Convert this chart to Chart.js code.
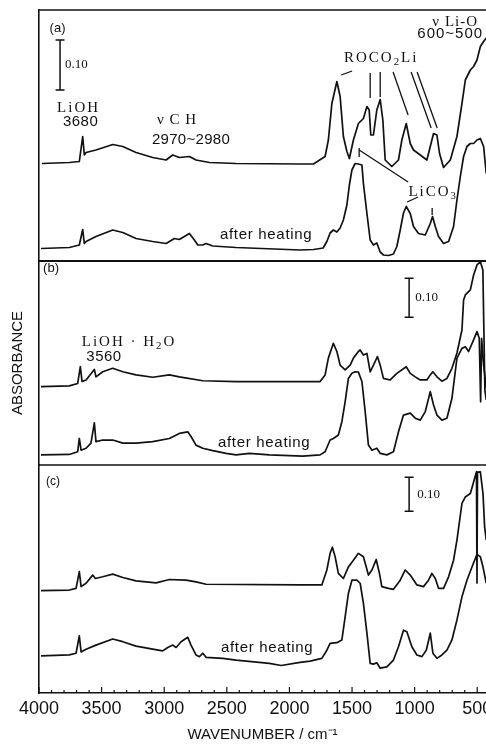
<!DOCTYPE html>
<html>
<head>
<meta charset="utf-8">
<script src="https://cdn.jsdelivr.net/npm/chart.js@4.4.1/dist/chart.umd.min.js"></script>
<style>
  html, body { margin: 0; padding: 0; background: #fff; overflow: hidden; }
  #wrap { width: 486px; height: 744px; position: relative; }
</style>
</head>
<body>
<div id="wrap"><canvas id="irChart"></canvas></div>
<script>
// x tick labels (cm-1)
const tickLabels = [4000, 3500, 3000, 2500, 2000, 1500, 1000, 500];

// spectra: [wavenumber cm-1, absorbance]
// panel (a)
const aFormed = [[3976,0.195],[3758,0.197],[3678,0.199],[3651,0.249],[3638,0.212],[3624,0.217],[3545,0.222],[3411,0.233],[3331,0.229],[3225,0.217],[3092,0.207],[2985,0.202],[2932,0.212],[2879,0.207],[2799,0.209],[2746,0.202],[2639,0.197],[2426,0.195],[1915,0.194],[1808,0.194],[1715,0.209],[1689,0.242],[1661,0.315],[1621,0.359],[1595,0.329],[1569,0.249],[1541,0.219],[1521,0.205],[1489,0.242],[1449,0.275],[1409,0.285],[1381,0.309],[1363,0.302],[1350,0.252],[1329,0.252],[1302,0.302],[1275,0.323],[1254,0.282],[1235,0.202],[1182,0.189],[1129,0.202],[1102,0.242],[1067,0.275],[1035,0.235],[1009,0.222],[955,0.212],[902,0.202],[875,0.229],[849,0.255],[822,0.252],[801,0.215],[769,0.187],[715,0.202],[662,0.249],[622,0.315],[595,0.362],[555,0.382],[529,0.389],[502,0.402],[475,0.429],[449,0.439],[428,0.446]];
const aHeated = [[3984,0.025],[3758,0.027],[3678,0.032],[3651,0.063],[3638,0.035],[3624,0.039],[3545,0.049],[3411,0.062],[3331,0.057],[3225,0.045],[3092,0.039],[2985,0.035],[2919,0.045],[2879,0.043],[2799,0.055],[2759,0.042],[2732,0.032],[2692,0.032],[2666,0.035],[2612,0.030],[2426,0.027],[1915,0.022],[1808,0.023],[1755,0.025],[1731,0.026],[1701,0.039],[1675,0.056],[1649,0.062],[1621,0.058],[1595,0.066],[1569,0.082],[1541,0.112],[1521,0.152],[1501,0.182],[1475,0.195],[1449,0.194],[1421,0.192],[1409,0.155],[1381,0.095],[1355,0.042],[1329,0.032],[1302,0.036],[1275,0.018],[1249,0.012],[1209,0.011],[1169,0.014],[1142,0.029],[1115,0.062],[1089,0.096],[1067,0.109],[1035,0.095],[1009,0.069],[969,0.055],[915,0.052],[875,0.075],[857,0.089],[835,0.069],[809,0.049],[769,0.035],[729,0.039],[689,0.069],[662,0.122],[635,0.169],[609,0.209],[582,0.229],[555,0.235],[529,0.235],[502,0.242],[475,0.245],[449,0.229],[428,0.175]];

// panel (b)
const bFormed = [[3984,0.201],[3758,0.203],[3691,0.209],[3670,0.252],[3656,0.214],[3624,0.218],[3558,0.245],[3545,0.226],[3491,0.239],[3411,0.248],[3331,0.239],[3225,0.231],[3092,0.225],[2959,0.231],[2879,0.226],[2692,0.216],[2426,0.214],[1915,0.214],[1755,0.214],[1715,0.231],[1689,0.274],[1649,0.312],[1621,0.291],[1595,0.256],[1555,0.244],[1515,0.256],[1489,0.274],[1449,0.291],[1435,0.295],[1409,0.282],[1381,0.286],[1355,0.239],[1329,0.256],[1297,0.278],[1275,0.256],[1249,0.222],[1195,0.218],[1142,0.235],[1067,0.252],[1035,0.235],[995,0.226],[955,0.218],[902,0.218],[875,0.231],[854,0.239],[822,0.226],[782,0.215],[742,0.222],[702,0.248],[662,0.287],[622,0.346],[609,0.423],[595,0.436],[555,0.449],[529,0.487],[502,0.513],[475,0.521],[455,0.500],[447,0.346],[439,0.192],[428,0.167]];
const bHeated = [[3984,0.026],[3758,0.027],[3691,0.034],[3678,0.068],[3664,0.038],[3624,0.043],[3585,0.056],[3558,0.108],[3545,0.060],[3491,0.064],[3411,0.064],[3331,0.056],[3225,0.056],[3092,0.060],[2959,0.068],[2879,0.081],[2812,0.085],[2786,0.073],[2746,0.051],[2692,0.043],[2612,0.037],[2506,0.030],[2426,0.026],[2320,0.030],[2160,0.026],[1893,0.023],[1755,0.026],[1715,0.034],[1675,0.064],[1649,0.068],[1609,0.077],[1581,0.111],[1555,0.162],[1529,0.222],[1501,0.235],[1475,0.239],[1449,0.238],[1421,0.214],[1395,0.137],[1369,0.051],[1341,0.038],[1302,0.043],[1275,0.030],[1222,0.026],[1169,0.034],[1129,0.085],[1089,0.128],[1035,0.133],[995,0.120],[955,0.115],[915,0.137],[875,0.188],[849,0.154],[822,0.128],[782,0.115],[742,0.120],[702,0.171],[662,0.274],[622,0.299],[595,0.303],[569,0.291],[529,0.321],[502,0.342],[484,0.325],[473,0.162],[465,0.325],[449,0.256],[428,0.197]];

// panel (c)
const cFormed = [[3984,0.301],[3758,0.303],[3704,0.308],[3678,0.357],[3664,0.313],[3624,0.323],[3571,0.347],[3550,0.337],[3491,0.342],[3411,0.350],[3331,0.340],[3225,0.330],[3065,0.324],[2959,0.334],[2826,0.332],[2746,0.327],[2666,0.320],[1915,0.318],[1741,0.318],[1701,0.362],[1675,0.411],[1657,0.429],[1635,0.401],[1609,0.352],[1569,0.337],[1529,0.371],[1489,0.391],[1449,0.411],[1409,0.401],[1369,0.347],[1341,0.362],[1307,0.393],[1281,0.352],[1262,0.313],[1209,0.308],[1169,0.305],[1115,0.332],[1075,0.362],[1035,0.347],[982,0.318],[929,0.313],[889,0.332],[862,0.352],[835,0.337],[809,0.308],[769,0.308],[729,0.342],[689,0.391],[662,0.450],[622,0.558],[595,0.577],[555,0.587],[529,0.621],[506,0.651],[502,0.324],[498,0.650],[475,0.651],[454,0.587],[441,0.489],[428,0.450]];
const cHeated = [[3984,0.109],[3758,0.112],[3704,0.117],[3678,0.168],[3664,0.121],[3624,0.129],[3545,0.141],[3411,0.159],[3331,0.151],[3225,0.138],[3092,0.129],[3012,0.124],[2972,0.134],[2932,0.141],[2905,0.134],[2865,0.151],[2812,0.164],[2786,0.141],[2746,0.112],[2719,0.107],[2692,0.117],[2666,0.105],[2532,0.102],[2426,0.097],[2160,0.087],[2066,0.081],[1915,0.090],[1835,0.094],[1741,0.102],[1701,0.126],[1675,0.146],[1621,0.148],[1581,0.156],[1555,0.224],[1529,0.293],[1501,0.332],[1461,0.332],[1435,0.323],[1409,0.264],[1381,0.176],[1355,0.087],[1329,0.085],[1302,0.089],[1275,0.073],[1222,0.077],[1169,0.097],[1129,0.136],[1089,0.185],[1062,0.180],[1022,0.136],[982,0.112],[942,0.107],[907,0.126],[875,0.176],[854,0.117],[822,0.102],[782,0.112],[742,0.126],[702,0.156],[662,0.215],[622,0.283],[582,0.332],[542,0.371],[502,0.408],[475,0.401],[454,0.371],[428,0.323]];

const serif = '"Liberation Serif", "DejaVu Serif", serif';
const sans = '"Liberation Sans", Arial, sans-serif';
const ink = '#111';

// text placed in data coordinates of each panel
const notes = [
  {axis: 'ya', wn: 3852, ab: 0.466, parts: [{t: '(a)'}], size: 13, family: sans, sp: 0},
  {axis: 'ya', wn: 3684, ab: 0.306, parts: [{t: 'LiOH'}], size: 15, family: serif, sp: 2},
  {axis: 'ya', wn: 3668, ab: 0.278, parts: [{t: '3680'}], size: 15, family: sans, sp: 0.5},
  {axis: 'ya', wn: 2897, ab: 0.282, parts: [{t: 'ν C H'}], size: 15, family: serif, sp: 1},
  {axis: 'ya', wn: 2786, ab: 0.242, parts: [{t: '2970~2980'}], size: 15, family: sans, sp: 0.3},
  {axis: 'ya', wn: 1267, ab: 0.406, parts: [{t: 'ROCO'}, {t: '2', sub: true}, {t: 'Li'}], size: 15, family: serif, sp: 2},
  {axis: 'ya', wn: 676, ab: 0.478, parts: [{t: 'ν Li-O'}], size: 15, family: serif, sp: 1},
  {axis: 'ya', wn: 716, ab: 0.454, parts: [{t: '600~500'}], size: 15, family: sans, sp: 1},
  {axis: 'ya', wn: 852, ab: 0.138, parts: [{t: 'LiCO'}, {t: '3', sub: true}], size: 15, family: serif, sp: 2},
  {axis: 'ya', wn: 2186, ab: 0.052, parts: [{t: 'after heating'}], size: 15, family: sans, sp: 0.7},
  {axis: 'yb', wn: 3904, ab: 0.503, parts: [{t: '(b)'}], size: 13, family: sans, sp: 0},
  {axis: 'yb', wn: 3281, ab: 0.315, parts: [{t: 'LiOH · H'}, {t: '2', sub: true}, {t: 'O'}], size: 15, family: serif, sp: 2},
  {axis: 'yb', wn: 3481, ab: 0.277, parts: [{t: '3560'}], size: 15, family: sans, sp: 0.5},
  {axis: 'yb', wn: 2202, ab: 0.056, parts: [{t: 'after heating'}], size: 15, family: sans, sp: 0.7},
  {axis: 'yc', wn: 3888, ab: 0.621, parts: [{t: '(c)'}], size: 12, family: sans, sp: 0},
  {axis: 'yc', wn: 2178, ab: 0.132, parts: [{t: 'after heating'}], size: 15, family: sans, sp: 0.7}
];

// leader lines (panel a): [wn1, ab1, wn2, ab2]
const leaders = [
  [1587, 0.372, 1499, 0.380],
  [1355, 0.376, 1355, 0.326],
  [1275, 0.378, 1275, 0.328],
  [1172, 0.378, 1052, 0.292],
  [1028, 0.378, 868, 0.266],
  [980, 0.378, 820, 0.266],
  [1443, 0.222, 1052, 0.158],
  [1443, 0.226, 1443, 0.208],
  [1060, 0.118, 972, 0.128],
  [860, 0.106, 860, 0.092]
];

// 0.10 absorbance scale bars
const scaleBars = [
  {axis: 'ya', wn: 3832, from: 0.342, labelWn: 3792},
  {axis: 'yb', wn: 1044, from: 0.379, labelWn: 996},
  {axis: 'yc', wn: 1044, from: 0.535, labelWn: 980}
];

function drawRich(ctx, parts, cx, cy, size, family, sp) {
  ctx.letterSpacing = sp + 'px';
  const widths = parts.map(p => {
    ctx.font = (p.sub ? size * 0.72 : size) + 'px ' + family;
    return ctx.measureText(p.t).width;
  });
  const total = widths.reduce((s, w) => s + w, 0);
  let px = cx - total / 2;
  parts.forEach((p, i) => {
    ctx.font = (p.sub ? size * 0.72 : size) + 'px ' + family;
    ctx.fillText(p.t, px, cy + (p.sub ? size * 0.3 : 0));
    px += widths[i];
  });
  ctx.letterSpacing = '0px';
}

const framePlugin = {
  id: 'frameAndNotes',
  afterDatasetsDraw(chart) {
    const ctx = chart.ctx;
    const xs = chart.scales.x;
    const area = chart.chartArea;
    ctx.save();
    ctx.strokeStyle = ink;
    ctx.fillStyle = ink;
    ctx.lineCap = 'butt';

    // top frame and panel dividers
    [[area.top, 1.6], [chart.scales.yb.top, 2], [chart.scales.yc.top, 1.6]].forEach(([y, w]) => {
      ctx.lineWidth = w;
      ctx.beginPath();
      ctx.moveTo(area.left, y);
      ctx.lineTo(area.right, y);
      ctx.stroke();
    });

    // inward ticks on the wavenumber axis
    ctx.lineWidth = 1.2;
    for (let v = 4000; v >= 500; v -= 100) {
      const px = xs.getPixelForValue(v);
      const len = v % 500 === 0 ? 6 : 3;
      ctx.beginPath();
      ctx.moveTo(px, area.bottom);
      ctx.lineTo(px, area.bottom - len);
      ctx.stroke();
    }

    // scale bars
    scaleBars.forEach(b => {
      const ys = chart.scales[b.axis];
      const px = xs.getPixelForValue(b.wn);
      const y1 = ys.getPixelForValue(b.from);
      const y2 = ys.getPixelForValue(b.from + 0.10);
      ctx.lineWidth = 1.5;
      ctx.beginPath();
      ctx.moveTo(px, y1); ctx.lineTo(px, y2);
      ctx.moveTo(px - 4.5, y1); ctx.lineTo(px + 4.5, y1);
      ctx.moveTo(px - 4.5, y2); ctx.lineTo(px + 4.5, y2);
      ctx.stroke();
      ctx.font = '13px ' + serif;
      ctx.textAlign = 'left';
      ctx.textBaseline = 'middle';
      ctx.fillText('0.10', xs.getPixelForValue(b.labelWn), (y1 + y2) / 2);
    });

    // leader lines
    const ya = chart.scales.ya;
    ctx.lineWidth = 1.3;
    leaders.forEach(([w1, a1, w2, a2]) => {
      ctx.beginPath();
      ctx.moveTo(xs.getPixelForValue(w1), ya.getPixelForValue(a1));
      ctx.lineTo(xs.getPixelForValue(w2), ya.getPixelForValue(a2));
      ctx.stroke();
    });

    // text notes
    ctx.textAlign = 'left';
    ctx.textBaseline = 'middle';
    notes.forEach(n => {
      const ys = chart.scales[n.axis];
      drawRich(ctx, n.parts, xs.getPixelForValue(n.wn), ys.getPixelForValue(n.ab), n.size, n.family, n.sp);
    });
    ctx.restore();
  }
};

const toPoints = pairs => pairs.map(([x, y]) => ({x, y}));
const traceStyle = {borderColor: ink, borderWidth: 1.7, pointRadius: 0, tension: 0, fill: false, borderJoinStyle: 'round'};

function panelAxis(max, weight, stackWeight, extra) {
  return Object.assign({
    type: 'linear',
    position: 'left',
    stack: 'panels',
    stackWeight: stackWeight,
    weight: weight,
    min: 0,
    max: max,
    ticks: {display: false},
    grid: {display: false, drawTicks: false},
    border: {display: true, color: ink, width: 1.6},
    afterFit: s => { s.width = 39; }
  }, extra || {});
}

new Chart(document.getElementById('irChart'), {
  type: 'line',
  data: {
    datasets: [
      Object.assign({label: '(a)', data: toPoints(aFormed), yAxisID: 'ya'}, traceStyle),
      Object.assign({label: '(a) after heating', data: toPoints(aHeated), yAxisID: 'ya'}, traceStyle),
      Object.assign({label: '(b)', data: toPoints(bFormed), yAxisID: 'yb'}, traceStyle),
      Object.assign({label: '(b) after heating', data: toPoints(bHeated), yAxisID: 'yb'}, traceStyle),
      Object.assign({label: '(c)', data: toPoints(cFormed), yAxisID: 'yc'}, traceStyle),
      Object.assign({label: '(c) after heating', data: toPoints(cHeated), yAxisID: 'yc'}, traceStyle)
    ]
  },
  options: {
    responsive: true,
    maintainAspectRatio: false,
    animation: false,
    events: [],
    layout: {padding: {top: 10, left: 0, right: 0, bottom: 0}},
    plugins: {
      legend: {display: false},
      tooltip: {enabled: false}
    },
    scales: {
      x: {
        type: 'linear',
        position: 'bottom',
        min: 430,
        max: 4000,
        reverse: true,
        grid: {display: false, drawTicks: false},
        border: {display: true, color: ink, width: 1.6},
        ticks: {
          color: ink,
          font: {family: sans, size: 18},
          padding: 5,
          maxRotation: 0,
          autoSkip: false,
          callback: v => String(v)
        },
        afterBuildTicks: s => { s.ticks = tickLabels.map(v => ({value: v})); },
        afterFit: s => { s.height = 51; s.paddingLeft = 0; s.paddingRight = 0; },
        title: {
          display: true,
          text: 'WAVENUMBER / cm⁻¹',
          color: ink,
          font: {family: sans, size: 15},
          padding: {top: 0, bottom: 0}
        }
      },
      ya: panelAxis(0.502, 3, 251),
      yb: panelAxis(0.523, 2, 204, {
        title: {
          display: true,
          text: 'ABSORBANCE',
          color: ink,
          font: {family: sans, size: 15},
          padding: {top: 9, bottom: 0}
        }
      }),
      yc: panelAxis(0.671, 1, 228)
    }
  },
  plugins: [framePlugin]
});
</script>
</body>
</html>
